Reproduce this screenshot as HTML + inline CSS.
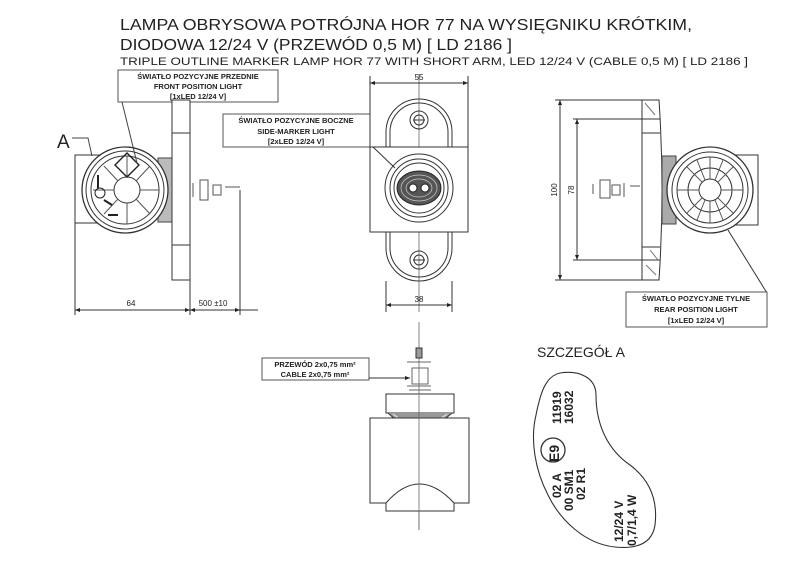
<!DOCTYPE html>
<html><head><meta charset="utf-8"><style>
html,body{margin:0;padding:0;background:#fff}
svg{display:block}
text{font-family:"Liberation Sans",Arial,sans-serif;fill:#222}
.b{font-weight:bold}
</style></head><body>
<svg width="800" height="580" viewBox="0 0 800 580" xmlns="http://www.w3.org/2000/svg">
<defs>
<marker id="ar" viewBox="0 0 10 10" refX="10" refY="5" markerWidth="7" markerHeight="5" orient="auto-start-reverse"><path d="M0,1 L10,5 L0,9z" fill="#222"/></marker>
</defs>
<g>
<text x="120" y="30" font-size="15.5" textLength="572" lengthAdjust="spacingAndGlyphs">LAMPA OBRYSOWA POTRÓJNA HOR 77 NA WYSIĘGNIKU KRÓTKIM,</text>
<text x="120" y="50" font-size="15.5" textLength="392" lengthAdjust="spacingAndGlyphs">DIODOWA 12/24 V (PRZEWÓD 0,5 M) [ LD 2186 ]</text>
<text x="120" y="65" font-size="11" textLength="628" lengthAdjust="spacingAndGlyphs">TRIPLE OUTLINE MARKER LAMP HOR 77 WITH SHORT ARM, LED 12/24 V (CABLE 0,5 M) [ LD 2186 ]</text>
</g>
<g fill="none" stroke="#333" stroke-width="1">
<!-- FRONT VIEW (left) -->
<rect x="118" y="70" width="160" height="32" fill="#fff" stroke="#555"/>
<rect x="75" y="155" width="50" height="68"/>
<rect x="158" y="158" width="16" height="64" fill="#bbb" stroke="#444"/>
<path d="M172,100 h18 v180 h-18 z" fill="#fff"/>
<line x1="172" y1="133" x2="190" y2="133"/><line x1="172" y1="245" x2="190" y2="245"/>
<circle cx="125" cy="190" r="43" fill="#fff" stroke-width="1.3"/>
<circle cx="125" cy="190" r="39"/>
<circle cx="125" cy="190" r="34"/>
<circle cx="127" cy="190" r="13"/>
<g stroke="#555">
<line x1="127" y1="177" x2="127" y2="156"/><line x1="127" y1="203" x2="127" y2="224"/>
<line x1="140" y1="190" x2="159" y2="190"/><line x1="114" y1="190" x2="93" y2="190"/>
<line x1="136" y1="181" x2="150" y2="166"/><line x1="136" y1="199" x2="150" y2="214"/>
<line x1="118" y1="181" x2="104" y2="166"/><line x1="118" y1="199" x2="104" y2="214"/>
</g>
<path d="M115,165 l12,-12 l12,12 l-12,12z" stroke="#222" stroke-width="1.4"/>
<g stroke="#222" stroke-width="2"><line x1="98" y1="175" x2="98" y2="188"/><line x1="104" y1="200" x2="112" y2="205"/><line x1="108" y1="215" x2="118" y2="215"/></g>
<circle cx="100" cy="193" r="5" stroke="#222"/>
<path d="M193,183 v14 M200,180 v20 h8 v-20z M213,185 h8 v10 h-8z M225,187 h15" stroke="#555"/>
<path d="M72,138 h16 l4,18" stroke="#444"/>
<path d="M122,102 L137,163" stroke="#444"/>
<line x1="75" y1="223" x2="75" y2="315"/>
<line x1="190" y1="280" x2="190" y2="315"/>
<line x1="240" y1="190" x2="240" y2="315"/>
<line x1="75" y1="310" x2="190" y2="310" marker-start="url(#ar)" marker-end="url(#ar)"/>
<line x1="190" y1="310" x2="240" y2="310" marker-start="url(#ar)" marker-end="url(#ar)"/>
<line x1="240" y1="310" x2="258" y2="310"/>
<!-- SIDE VIEW (middle) -->
<rect x="223" y="114" width="147" height="33" fill="#fff" stroke="#555"/>
<line x1="419" y1="74" x2="419" y2="312" stroke="#666" stroke-width=".8"/>
<line x1="370" y1="76" x2="370" y2="147"/><line x1="468" y1="76" x2="468" y2="147"/>
<line x1="370" y1="83" x2="468" y2="83" marker-start="url(#ar)" marker-end="url(#ar)"/>
<rect x="386" y="99" width="66" height="182" rx="33"/>
<rect x="390" y="103" width="58" height="174" rx="29"/>
<rect x="370" y="147" width="98" height="85" fill="#fff"/>
<circle cx="419" cy="120" r="9"/><circle cx="419" cy="120" r="5"/>
<circle cx="419" cy="260" r="9"/><circle cx="419" cy="260" r="5"/>
<line x1="413" y1="120" x2="425" y2="120"/><line x1="413" y1="260" x2="425" y2="260"/>
<circle cx="419" cy="188" r="34"/><circle cx="419" cy="188" r="29"/><circle cx="419" cy="188" r="25"/>
<ellipse cx="419" cy="188" rx="22" ry="17" fill="#555" stroke="#222"/>
<ellipse cx="419" cy="188" rx="18" ry="13" stroke="#ccc" stroke-width=".7"/>
<ellipse cx="419" cy="188" rx="13" ry="9" stroke="#ccc" stroke-width=".7"/>
<circle cx="413" cy="188" r="4" fill="#fff" stroke="#222"/><circle cx="425" cy="188" r="4" fill="#fff" stroke="#222"/>
<line x1="373" y1="147" x2="395" y2="168"/>
<line x1="386" y1="281" x2="386" y2="312"/><line x1="452" y1="281" x2="452" y2="312"/>
<line x1="386" y1="305" x2="452" y2="305" marker-start="url(#ar)" marker-end="url(#ar)"/>
<!-- RIGHT VIEW -->
<line x1="555" y1="100" x2="645" y2="100"/><line x1="555" y1="280" x2="645" y2="280"/>
<line x1="573" y1="119" x2="645" y2="119"/><line x1="573" y1="260" x2="645" y2="260"/>
<line x1="560" y1="100" x2="560" y2="280" marker-start="url(#ar)" marker-end="url(#ar)"/>
<line x1="577" y1="119" x2="577" y2="260" marker-start="url(#ar)" marker-end="url(#ar)"/>
<path d="M642,100 h17 q6,90 0,180 h-17 z" fill="#fff"/>
<line x1="642" y1="119" x2="660" y2="119"/><line x1="642" y1="133" x2="660" y2="133"/>
<line x1="642" y1="247" x2="660" y2="247"/><line x1="642" y1="260" x2="660" y2="260"/>
<path d="M645,103 l10,12 M650,250 l8,10 M646,265 l10,10" stroke="#777"/>
<rect x="662" y="156" width="14" height="68" fill="#aaa" stroke="#444"/>
<rect x="700" y="155" width="58" height="70"/>
<path d="M593,184 v10 M600,180 h10 v18 h-10z M612,185 h8 v10 h-8z M624,183 v14 M630,186 h10" stroke="#555"/>
<circle cx="710" cy="190" r="43" fill="#fff" stroke-width="1.3"/>
<circle cx="710" cy="190" r="38"/>
<circle cx="710" cy="190" r="33"/>
<circle cx="710" cy="190" r="22"/>
<circle cx="710" cy="190" r="11"/>
<g stroke="#555">
<line x1="710" y1="157" x2="710" y2="179"/><line x1="710" y1="201" x2="710" y2="223"/>
<line x1="677" y1="190" x2="699" y2="190"/><line x1="721" y1="190" x2="743" y2="190"/>
<line x1="687" y1="167" x2="702" y2="182"/><line x1="733" y1="167" x2="718" y2="182"/>
<line x1="687" y1="213" x2="702" y2="198"/><line x1="733" y1="213" x2="718" y2="198"/>
<line x1="697" y1="160" x2="705" y2="180"/><line x1="723" y1="160" x2="715" y2="180"/>
<line x1="697" y1="220" x2="705" y2="200"/><line x1="723" y1="220" x2="715" y2="200"/>
</g>
<line x1="728" y1="230" x2="767" y2="293"/>
<rect x="626" y="292" width="141" height="35" fill="#fff" stroke="#555"/>
<!-- BOTTOM VIEW -->
<line x1="419" y1="322" x2="419" y2="530" stroke="#666" stroke-width=".8"/>
<rect x="416" y="348" width="6" height="10" fill="#999"/>
<path d="M407,362 h24 M412,368 h16 v16 h-16z M407,386 h24 M409,390 h22" stroke="#666"/>
<rect x="262" y="358" width="107" height="22" fill="#fff" stroke="#555"/>
<line x1="369" y1="378" x2="410" y2="378" marker-end="url(#ar)"/>
<rect x="386" y="394" width="68" height="19" fill="#fff"/>
<path d="M388,413 q31,30 64,0" fill="#999" stroke="#333"/>
<path d="M393,414 q26,22 54,0" stroke="#eee"/>
<rect x="370" y="418" width="99" height="85" fill="#fff"/>
<path d="M386,503 q33,-38 68,0 v8 h-68z" fill="#fff"/>
<line x1="419" y1="395" x2="419" y2="530" stroke="#666" stroke-width=".8"/>
<!-- DETAIL A -->
<path d="M560,373 C580,370 596,378 596,395 C596,425 608,450 630,465 C650,480 658,500 655,525 C652,545 635,549 615,547 C585,544 560,520 548,495 C535,470 530,440 536,415 C540,395 545,376 560,373 Z" stroke-width="1.1"/>
<circle cx="553" cy="450" r="12" stroke-width="1.3"/>
</g>
<g font-size="7.5" class="b" text-anchor="middle">
<text x="198" y="79">ŚWIATŁO POZYCYJNE PRZEDNIE</text>
<text x="198" y="89">FRONT POSITION LIGHT</text>
<text x="198" y="99">[1xLED 12/24 V]</text>
<text x="296" y="123">ŚWIATŁO POZYCYJNE BOCZNE</text>
<text x="296" y="134">SIDE-MARKER LIGHT</text>
<text x="296" y="144">[2xLED 12/24 V]</text>
<text x="696" y="301">ŚWIATŁO POZYCYJNE TYLNE</text>
<text x="696" y="312">REAR POSITION LIGHT</text>
<text x="696" y="323">[1xLED 12/24 V]</text>
<text x="315" y="367">PRZEWÓD 2x0,75 mm²</text>
<text x="315" y="377">CABLE 2x0,75 mm²</text>
</g>
<g font-size="8" text-anchor="middle">
<text x="131" y="306">64</text>
<text x="213" y="306">500 ±10</text>
<text x="419" y="80">55</text>
<text x="419" y="302">38</text>
<text transform="translate(557,190) rotate(-90)">100</text>
<text transform="translate(574,190) rotate(-90)">78</text>
</g>
<text x="57" y="148" font-size="19">A</text>
<text x="537" y="357" font-size="14">SZCZEGÓŁ A</text>
<g font-size="12" class="b" fill="#333">
<text transform="translate(561,424) rotate(-90)">11919</text>
<text transform="translate(573,424) rotate(-90)">16032</text>
<text transform="translate(559,462) rotate(-90)" font-size="14">E9</text>
<text transform="translate(561,498) rotate(-90)">02 A</text>
<text transform="translate(573,511) rotate(-90)">00 SM1</text>
<text transform="translate(585,500) rotate(-90)">02 R1</text>
<text transform="translate(623,542) rotate(-90)">12/24 V</text>
<text transform="translate(636,546) rotate(-90)">0,7/1,4 W</text>
</g>
</svg>
</body></html>
